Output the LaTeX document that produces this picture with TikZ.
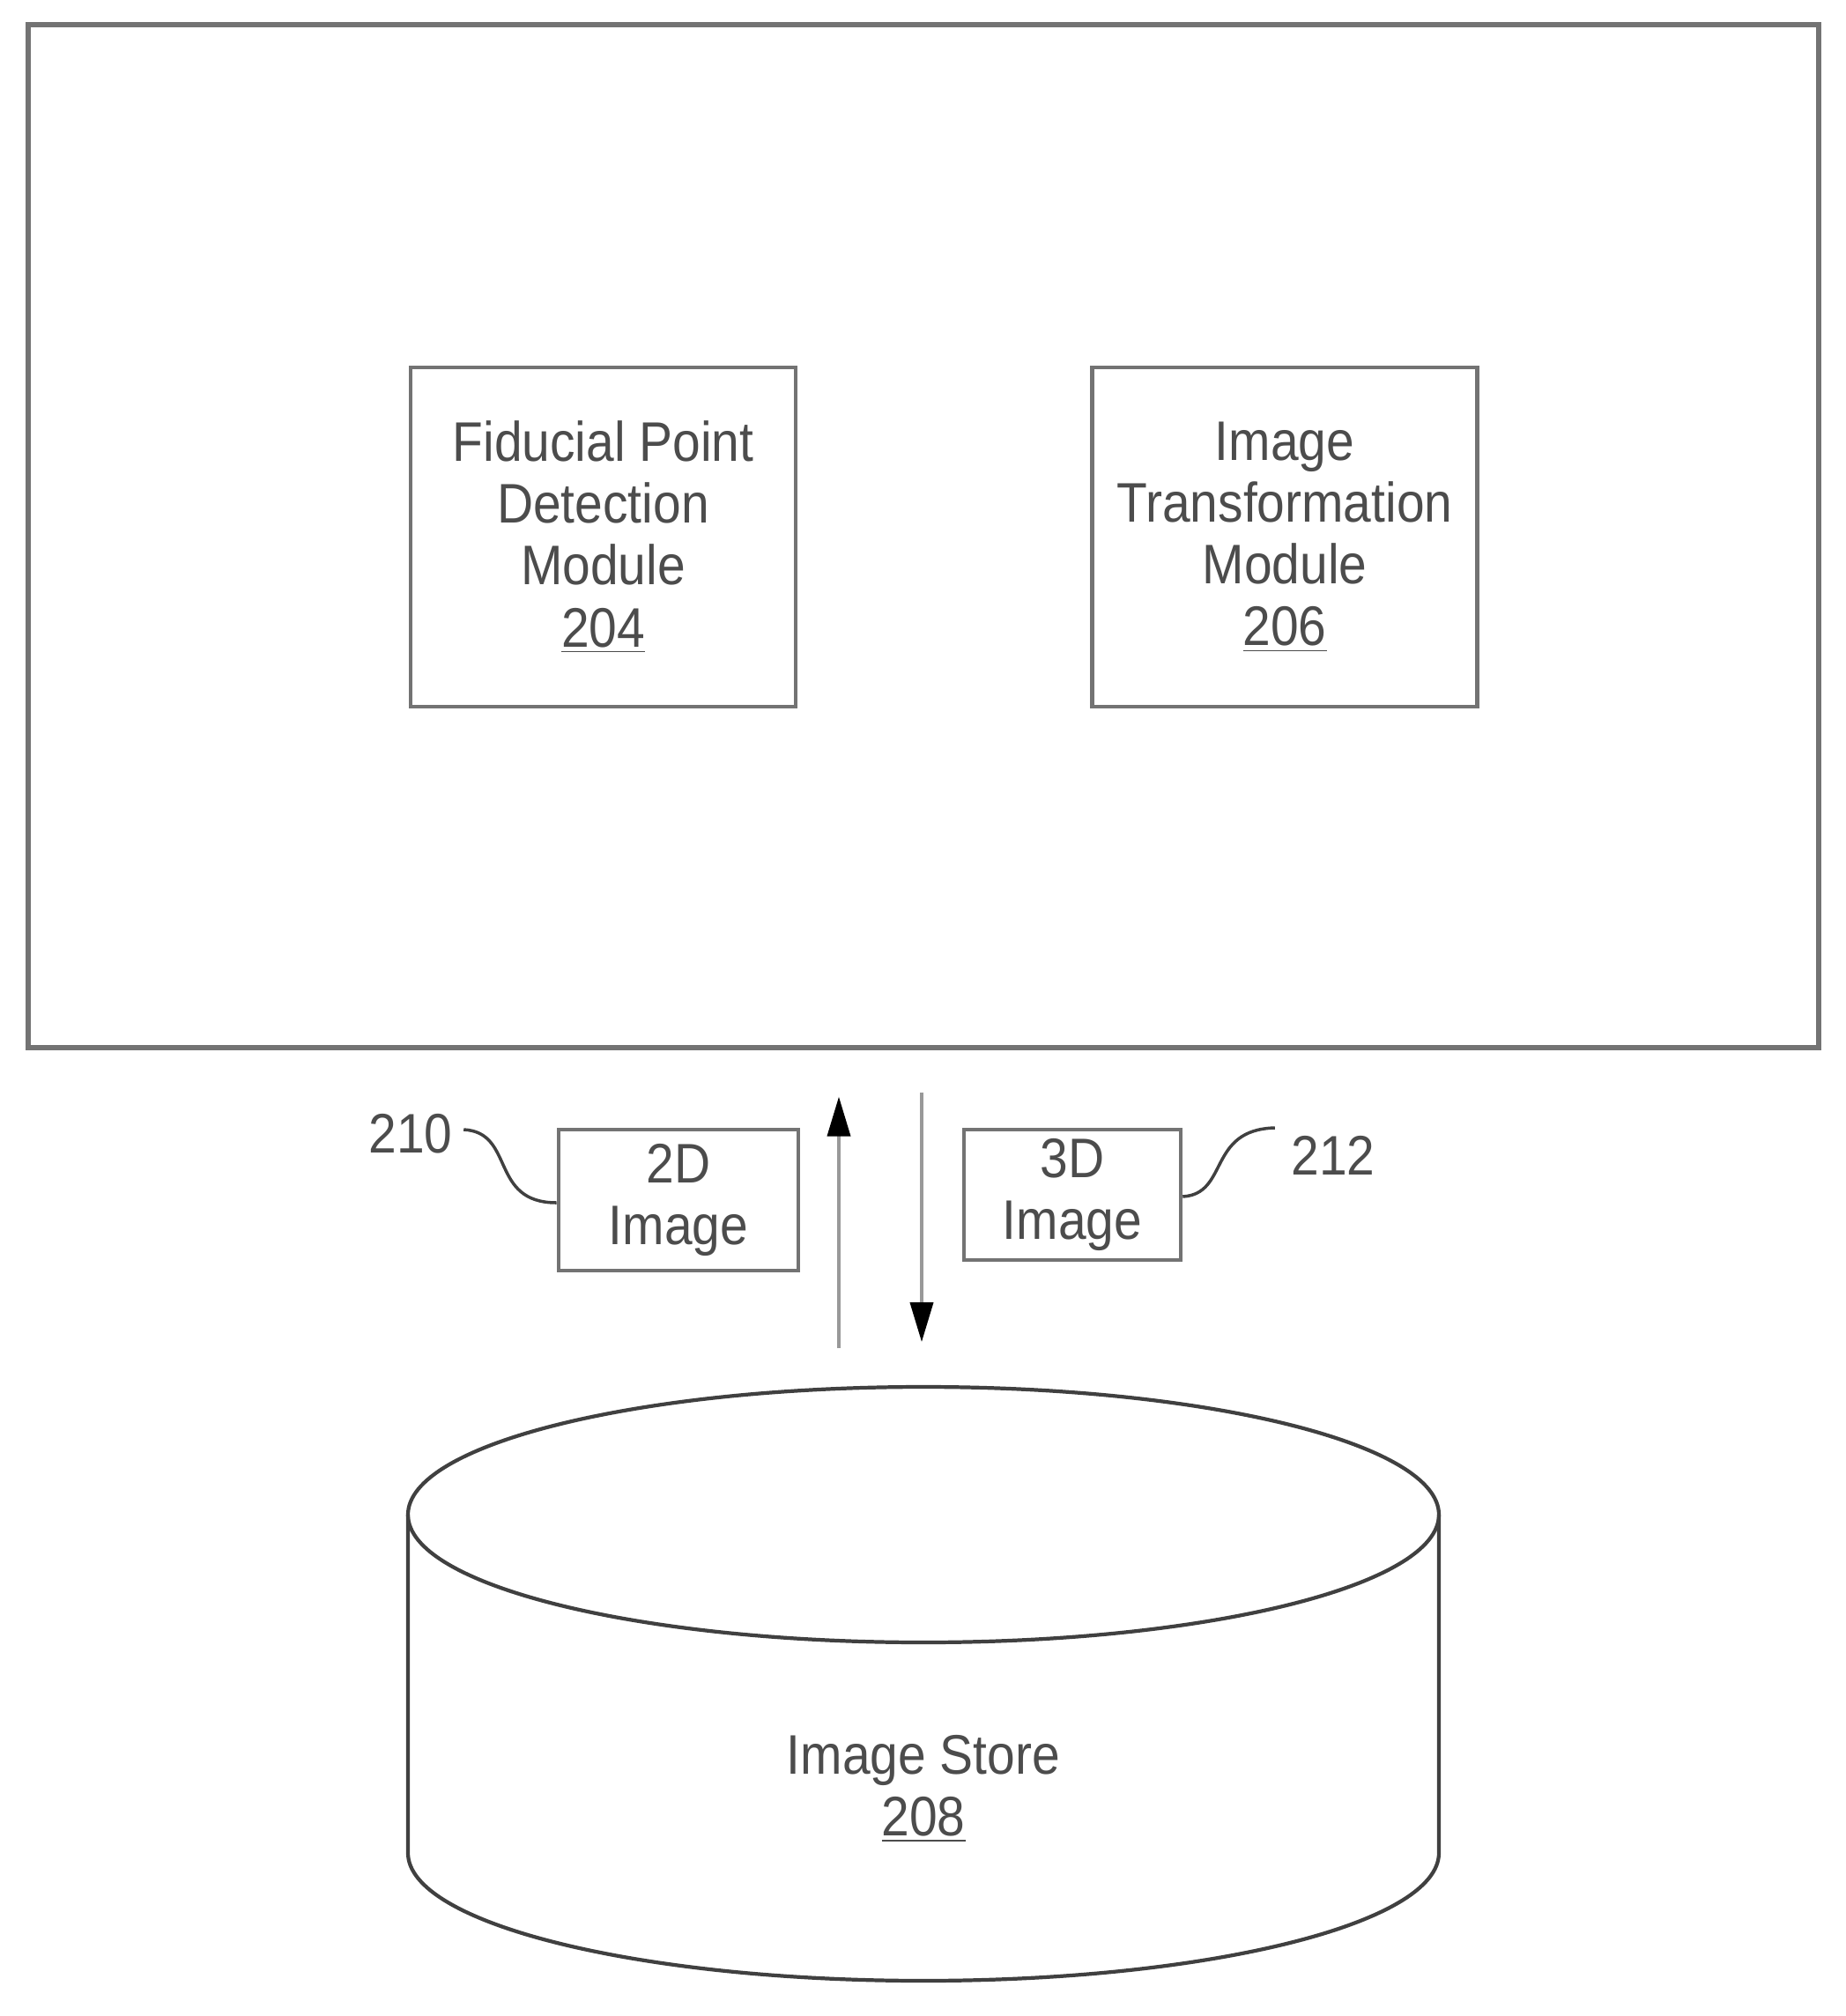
\documentclass[tikz,border=0pt]{standalone}
\usepackage{fontspec}
\setmainfont{Liberation Sans}[FakeStretch=0.9]
\usetikzlibrary{arrows.meta}

\definecolor{boxgray}{gray}{0.45}
\definecolor{txtgray}{gray}{0.3}
\definecolor{shaftgray}{gray}{0.6}
\definecolor{linegray}{gray}{0.25}

\tikzset{
  blocktext/.style={align=center, text=txtgray, font=\fontsize{18}{20}\selectfont},
  module/.style={draw=boxgray, line width=1.3pt, minimum width=4.37cm, minimum height=3.85cm, blocktext},
  imgbox/.style={draw=boxgray, line width=1.3pt, inner sep=0pt, blocktext},
  refnum/.style={inner sep=0pt, text=txtgray, font=\fontsize{18}{20}\selectfont},
  leader/.style={draw=linegray, line width=1pt},
  flow/.style={draw=shaftgray, line width=1.1pt, -{Triangle[length=4.5mm, width=2.6mm, color=black]}},
  storeline/.style={draw=linegray, line width=1.2pt}
}

\begin{document}
\begin{tikzpicture}
    \useasboundingbox (0,0) rectangle (20.95,-22.88);

    % system box with the two modules
    \node[draw=boxgray, line width=1.5pt, minimum width=20.32cm, minimum height=11.61cm] (sys) at (10.48,-6.085) {};
    \node[module] (fpd) at (6.845,-6.095) {Fiducial Point\\Detection\\Module\\\underline{204}};
    \node[module] (itm) at (14.58,-6.095) {Image\\Transformation\\Module\\\underline{206}};

    % image store
    \coordinate (storetop) at (10.48,-15.74);
    \draw[storeline] (4.63,-17.19) -- (4.63,-21.03) arc[start angle=180, end angle=360, x radius=5.85, y radius=1.45] -- (16.33,-17.19);
    \draw[storeline] (10.48,-17.19) ellipse [x radius=5.85, y radius=1.45];
    \node[blocktext] (store) at (10.48,-20.30) {Image Store\\\underline{208}};

    % images passed between them
    \node[imgbox, minimum width=2.72cm, minimum height=1.60cm] (img2d) at (7.70,-13.62) {2D\\Image};
    \node[imgbox, minimum width=2.46cm, minimum height=1.48cm] (img3d) at (12.17,-13.56) {3D\\Image};

    \coordinate (upx) at (9.52,0);
    \coordinate (downx) at (10.46,0);
    \draw[flow, shorten <=4.4mm, shorten >=5.3mm] (storetop -| upx) -- (sys.south -| upx);
    \draw[flow, shorten <=4.8mm, shorten >=5.1mm] (sys.south -| downx) -- (storetop -| downx);

    % reference numerals
    \node[refnum] (n210) at (4.66,-12.87) {210};
    \node[refnum] (n212) at (15.13,-13.11) {212};
    \draw[leader] ([xshift=1.2mm, yshift=0.5mm]n210.east) .. controls (5.85,-12.85) and (5.55,-13.65) .. (img2d.west |- 0,-13.65);
    \draw[leader] (img3d.east |- 0,-13.58) .. controls (13.95,-13.55) and (13.70,-12.82) .. ([xshift=-1.8mm, yshift=3.1mm]n212.west);
\end{tikzpicture}
\end{document}
